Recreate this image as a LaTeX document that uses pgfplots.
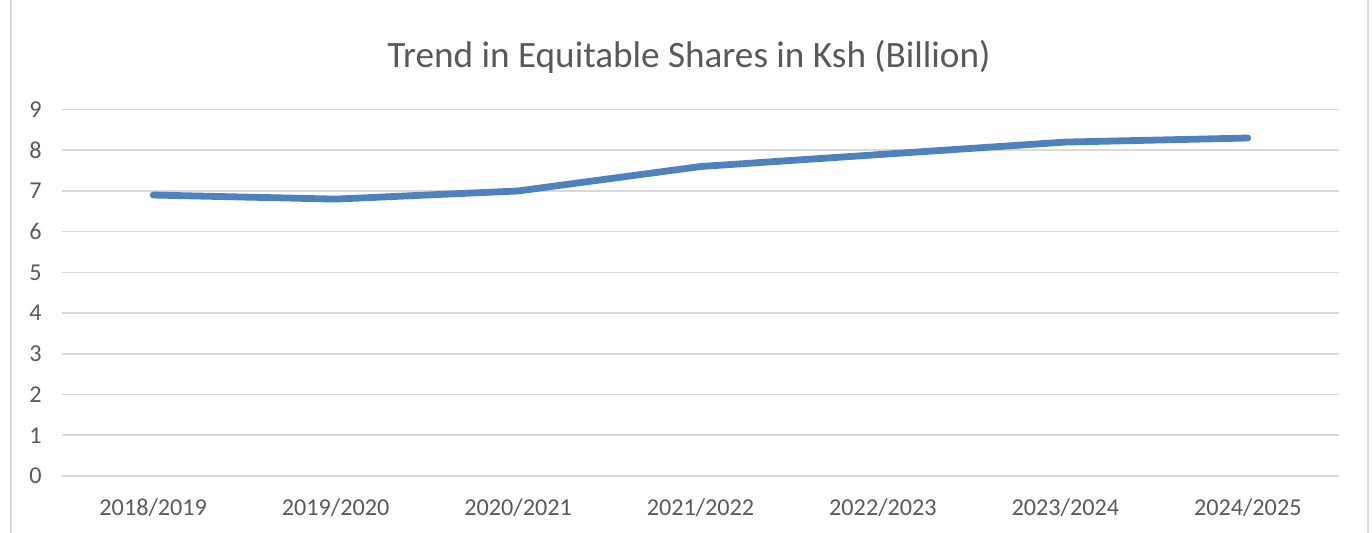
\documentclass[border=0pt]{standalone}
\usepackage{fontspec}
\setmainfont{Carlito}
\usepackage{pgfplots}
\pgfplotsset{compat=1.18}
\definecolor{txtgray}{HTML}{595959}
\definecolor{gridgray}{HTML}{D9D9D9}
\definecolor{lineblue}{HTML}{4F81BD}

\begin{document}
\begin{tikzpicture}
\useasboundingbox (0,0) rectangle (686bp,266.5bp);
% chart frame (only the sides show)
\draw[gridgray, line width=0.8bp] (5.5bp,0) -- (5.5bp,266.5bp);
\draw[gridgray, line width=0.8bp] (684bp,0) -- (684bp,266.5bp);
\node[txtgray, font=\fontsize{18.6bp}{22bp}\selectfont] at (344.5bp,238bp)
  {Trend in Equitable Shares in Ksh (Billion)};
\begin{axis}[
  at={(31bp,28.5bp)}, anchor=south west,
  scale only axis, width=638.5bp, height=183.25bp,
  xmin=-0.5, xmax=6.5, ymin=0, ymax=9,
  xtick={0,...,6},
  xticklabels={2018/2019,2019/2020,2020/2021,2021/2022,2022/2023,2023/2024,2024/2025},
  ytick={0,...,9},
  axis line style={draw=none},
  major tick length=0pt,
  ymajorgrids, grid style={gridgray, line width=0.8bp},
  /pgf/number format/assume math mode=true,
  tick label style={txtgray, font=\fontsize{12.1bp}{14bp}\selectfont},
  yticklabel style={anchor=east, inner sep=0pt, xshift=-10bp},
  xticklabel style={anchor=north, inner sep=0pt, yshift=-11bp},
]
\addplot[lineblue, line width=3.4bp, line cap=round, line join=round, mark=none]
  coordinates {(0,6.9) (1,6.8) (2,7.0) (3,7.6) (4,7.9) (5,8.2) (6,8.3)};
\end{axis}
\end{tikzpicture}
\end{document}
